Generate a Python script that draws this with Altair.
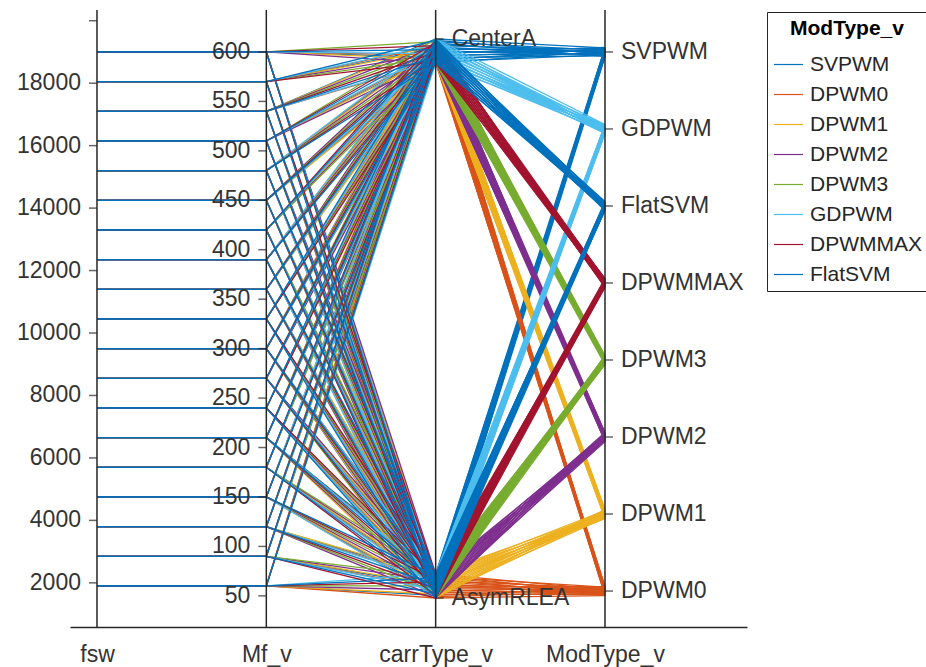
import altair as alt
import pandas as pd

# ---- data -------------------------------------------------------------
coord_names = ["fsw", "Mf_v", "carrType_v", "ModType_v"]

fsw_values = [1900, 2850, 3800, 4750, 5700, 6650, 7600, 8550, 9500, 10450,
              11400, 12350, 13300, 14250, 15200, 16150, 17100, 18050, 19000]
mf_values = [60, 90, 120, 150, 180, 210, 240, 270, 300, 330,
             360, 390, 420, 450, 480, 510, 540, 570, 600]

carr_levels = ["AsymRLEA", "CenterA"]                      # bottom -> top
mod_levels = ["DPWM0", "DPWM1", "DPWM2", "DPWM3",
              "DPWMMAX", "FlatSVM", "GDPWM", "SVPWM"]      # bottom -> top
mod_groups = ["SVPWM", "DPWM0", "DPWM1", "DPWM2",
              "DPWM3", "GDPWM", "DPWMMAX", "FlatSVM"]      # group / legend order
mod_colors = ["#0072BD", "#D95319", "#EDB120", "#7E2F8E",
              "#77AC30", "#4DBEEE", "#A2142F", "#0072BD"]

fsw_ticks = [2000, 4000, 6000, 8000, 10000, 12000, 14000, 16000, 18000, 20000]
fsw_tick_labels = ["2000", "4000", "6000", "8000", "10000", "12000",
                   "14000", "16000", "18000", ""]
mf_ticks = [50, 100, 150, 200, 250, 300, 350, 400, 450, 500, 550, 600]

# ---- ruler layout (fractions of the plot height) -----------------------
NUM_LO, NUM_HI = 0.0665, 0.932      # data min / max of numeric coordinates
MOD_LO, MOD_HI = 0.0583, 0.932      # first / last ModType category
CARR_LO, CARR_HI = 0.047, 0.953     # AsymRLEA / CenterA
CARR_JIT, MOD_JIT = 0.039, 0.0146   # categorical jitter widths


def num_pos(v, vals):
    lo, hi = min(vals), max(vals)
    return NUM_LO + (v - lo) / (hi - lo) * (NUM_HI - NUM_LO)


def mod_pos(k):
    return MOD_LO + k / (len(mod_levels) - 1) * (MOD_HI - MOD_LO)


def carr_pos(c):
    return CARR_LO + c * (CARR_HI - CARR_LO)


n = len(fsw_values)
records = []
row = 0
for m in mod_groups:
    k = mod_levels.index(m)
    for c, carr in enumerate(carr_levels):
        for i, (f, mf) in enumerate(zip(fsw_values, mf_values)):
            # spread order of the categorical jitter
            u_c = ((i * 7 + 3 * k) % n) / (n - 1)
            u_m = ((i * 11 + 5 * c + k) % n) / (n - 1)
            pc = carr_pos(c) + (u_c * CARR_JIT if c == 0 else -u_c * CARR_JIT)
            pm = mod_pos(k) + (u_m - 0.5) * MOD_JIT
            for ax, p in enumerate([num_pos(f, fsw_values),
                                    num_pos(mf, mf_values), pc, pm]):
                records.append({"row": row, "axis": ax, "pos": p,
                                "ModType_v": m})
            row += 1
lines_df = pd.DataFrame(records)

num_ticks = pd.DataFrame(
    [{"axis": 0, "pos": num_pos(v, fsw_values), "label": lab}
     for v, lab in zip(fsw_ticks, fsw_tick_labels)]
    + [{"axis": 1, "pos": num_pos(v, mf_values), "label": str(v)}
       for v in mf_ticks]
)
cat_ticks = pd.DataFrame(
    [{"axis": 2, "pos": carr_pos(c), "label": lab}
     for c, lab in enumerate(carr_levels)]
    + [{"axis": 3, "pos": mod_pos(k), "label": lab}
       for k, lab in enumerate(mod_levels)]
)
axes_df = pd.DataFrame({"axis": list(range(len(coord_names))),
                        "lo": [0.0] * 4, "hi": [1.0] * 4})

# ---- chart ------------------------------------------------------------
FONT = "Liberation Sans"
INK = "#262626"
TXT = "#333333"
W, H = 677, 617

label_expr = " : ".join(
    f"datum.value == {i} ? '{name}'" for i, name in enumerate(coord_names)
) + " : ''"

x_enc = alt.X(
    "axis:Q",
    scale=alt.Scale(domain=[-0.1594, 3.8386], nice=False, zero=False),
    axis=alt.Axis(values=[0, 1, 2, 3], labelExpr=label_expr, ticks=False,
                  grid=False, title=None, domainColor=INK, domainWidth=1.5,
                  labelFontSize=23, labelFont=FONT, labelColor=TXT,
                  labelPadding=16),
)
y_scale = alt.Scale(domain=[0, 1], nice=False, zero=False)

lines = alt.Chart(lines_df).mark_line(strokeWidth=1.3).encode(
    x=x_enc,
    y=alt.Y("pos:Q", scale=y_scale, axis=None),
    color=alt.Color(
        "ModType_v:N",
        scale=alt.Scale(domain=mod_groups, range=mod_colors),
        sort=mod_groups,
        legend=alt.Legend(
            orient="none", legendX=697, legendY=2,
            title="ModType_v", titleFontSize=21, titleFontWeight="bold",
            titleFont=FONT, titleColor="#000000", titleAnchor="middle",
            titlePadding=10,
            labelFontSize=21, labelFont=FONT, labelColor=INK, labelOffset=6,
            symbolType="stroke", symbolSize=841, symbolStrokeWidth=1.2,
            strokeColor=INK, fillColor="white", padding=6, rowPadding=4,
        ),
    ),
    detail="row:N",
)

axis_lines = alt.Chart(axes_df).mark_rule(color=INK, strokeWidth=1.5).encode(
    x="axis:Q", y=alt.Y("lo:Q", scale=y_scale), y2="hi:Q"
)

left_ticks = alt.Chart(num_ticks).mark_tick(
    orient="horizontal", size=8, thickness=1.5, xOffset=-4, color=INK
).encode(x="axis:Q", y="pos:Q")
left_labels = alt.Chart(num_ticks).mark_text(
    align="right", baseline="middle", dx=-16, fontSize=23, font=FONT, color=TXT
).encode(x="axis:Q", y="pos:Q", text="label:N")

right_ticks = alt.Chart(cat_ticks).mark_tick(
    orient="horizontal", size=8, thickness=1.5, xOffset=4, color=INK
).encode(x="axis:Q", y="pos:Q")
right_labels = alt.Chart(cat_ticks).mark_text(
    align="left", baseline="middle", dx=16, fontSize=23, font=FONT, color=TXT
).encode(x="axis:Q", y="pos:Q", text="label:N")

# separator under the legend title
legend_sep = alt.Chart(pd.DataFrame({"a": [0]})).mark_rule(
    color=INK, strokeWidth=1
).encode(x=alt.value(697), x2=alt.value(855), y=alt.value(35))

chart = alt.layer(
    lines, axis_lines, left_ticks, right_ticks, left_labels, right_labels,
    legend_sep,
).properties(
    width=W, height=H,
    padding={"left": 70, "top": 10, "right": 179, "bottom": 40},
    autosize=alt.AutoSizeParams(type="none"),
    background="white",
).configure_view(stroke=None)

chart.save("out.html", embed_options={"renderer": "svg", "actions": False})
